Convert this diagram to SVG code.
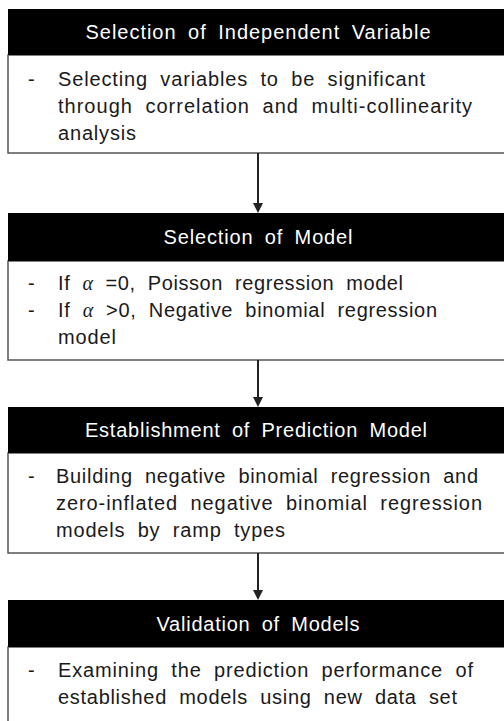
<svg xmlns="http://www.w3.org/2000/svg" width="504" height="721" viewBox="0 0 504 721">
<style>
.hdr{fill:#000;}
.body{fill:#fff;stroke:#555;stroke-width:1.5;}
.ht{font-family:"Liberation Sans","DejaVu Sans",sans-serif;font-size:20px;fill:#fff;text-anchor:middle;word-spacing:5px;}
.bt{font-family:"Liberation Sans","DejaVu Sans",sans-serif;font-size:20px;fill:#1a1a1a;word-spacing:6px;}
.al{font-family:"Liberation Serif","DejaVu Serif",serif;font-style:italic;}
.conn{stroke:#222;stroke-width:2;fill:none;}
.head{fill:#222;}
</style>
<g id="node1">
<rect class="body" x="8" y="55" width="520" height="98"/>
<rect class="hdr" x="8" y="9" width="520" height="46"/>
<text class="ht" x="258" y="39" textLength="345" lengthAdjust="spacing">Selection of Independent Variable</text>
<text class="bt" x="28" y="86">-</text>
<text class="bt" x="58" y="86" textLength="367" lengthAdjust="spacing">Selecting variables to be significant</text>
<text class="bt" x="58" y="113" textLength="414" lengthAdjust="spacing">through correlation and multi-collinearity</text>
<text class="bt" x="58" y="140" textLength="78" lengthAdjust="spacing">analysis</text>
</g>
<g id="node2">
<rect class="body" x="8" y="261" width="520" height="99"/>
<rect class="hdr" x="8" y="213" width="520" height="48"/>
<text class="ht" x="258" y="244" textLength="189" lengthAdjust="spacing">Selection of Model</text>
<text class="bt" x="28" y="290">-</text>
<text class="bt" x="58" y="290" textLength="345" lengthAdjust="spacing">If  <tspan class="al">α</tspan> =0, Poisson regression model</text>
<text class="bt" x="28" y="317">-</text>
<text class="bt" x="58" y="317" textLength="379" lengthAdjust="spacing">If  <tspan class="al">α</tspan> &gt;0, Negative binomial regression</text>
<text class="bt" x="58" y="344" textLength="58" lengthAdjust="spacing">model</text>
</g>
<g id="node3">
<rect class="body" x="8" y="453" width="520" height="100"/>
<rect class="hdr" x="8" y="407" width="520" height="46"/>
<text class="ht" x="256" y="437" textLength="342" lengthAdjust="spacing">Establishment of Prediction Model</text>
<text class="bt" x="28" y="483">-</text>
<text class="bt" x="56" y="483" textLength="422" lengthAdjust="spacing">Building negative binomial regression and</text>
<text class="bt" x="56" y="510" textLength="426" lengthAdjust="spacing">zero-inflated negative binomial regression</text>
<text class="bt" x="56" y="537" textLength="229" lengthAdjust="spacing">models by ramp types</text>
</g>
<g id="node4">
<rect class="body" x="8" y="647" width="520" height="90"/>
<rect class="hdr" x="8" y="600" width="520" height="47"/>
<text class="ht" x="258" y="631" textLength="203" lengthAdjust="spacing">Validation of Models</text>
<text class="bt" x="28" y="677">-</text>
<text class="bt" x="58" y="677" textLength="415" lengthAdjust="spacing">Examining the prediction performance of</text>
<text class="bt" x="58" y="704" textLength="399" lengthAdjust="spacing">established models using new data set</text>
</g>
<g id="connectors">
<line class="conn" x1="258" y1="153" x2="258" y2="205"/>
<polygon class="head" points="253,203 263,203 258,213"/>
<line class="conn" x1="258" y1="360" x2="258" y2="399"/>
<polygon class="head" points="253,397 263,397 258,407"/>
<line class="conn" x1="258" y1="553" x2="258" y2="592"/>
<polygon class="head" points="253,590 263,590 258,600"/>
</g>
</svg>
